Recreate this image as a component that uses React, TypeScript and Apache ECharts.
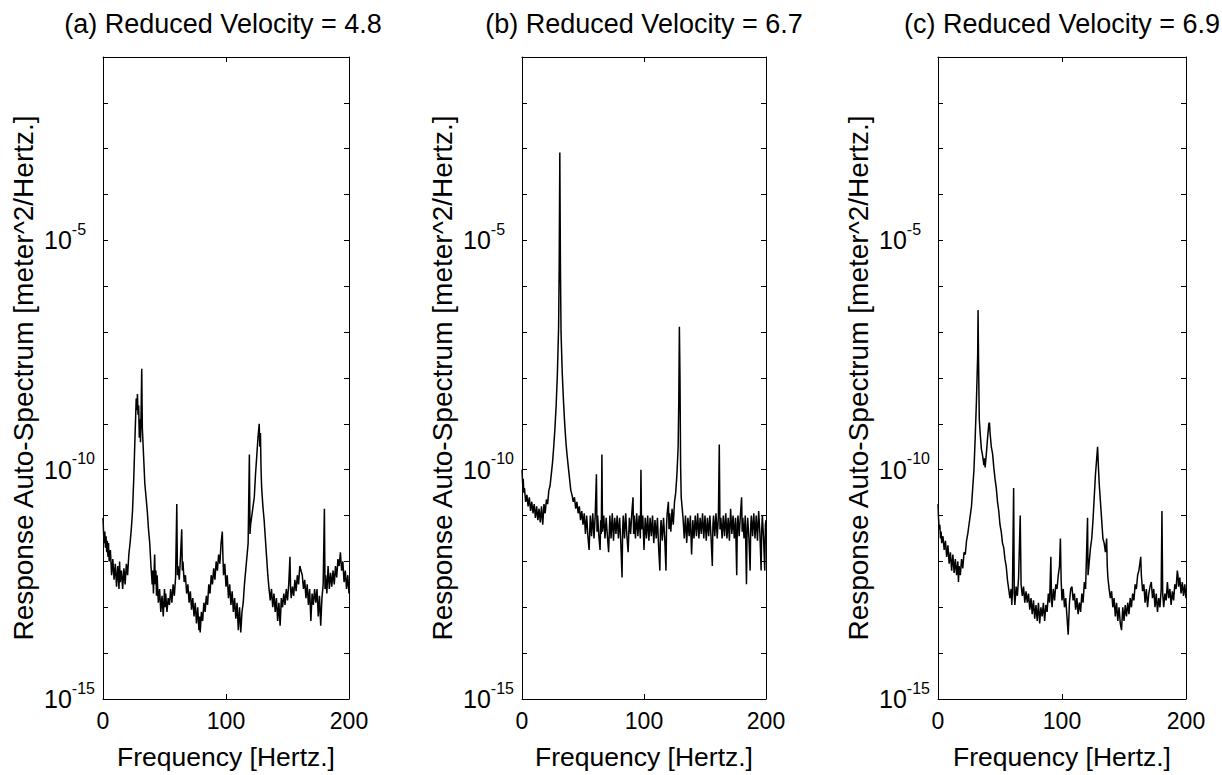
import React, { useEffect, useRef } from 'react';
import * as echarts from 'echarts';

const FONT = "'Liberation Sans', Arial, Helvetica, sans-serif";

const panelTitles = [
  '(a) Reduced Velocity = 4.8',
  '(b) Reduced Velocity = 6.7',
  '(c) Reduced Velocity = 6.9',
];
const xTickLabels = [0, 100, 200];
const yLabelExponents = [-15, -10, -5];
const xName = 'Frequency [Hertz.]';
const yName = 'Response Auto-Spectrum [meter^2/Hertz.]';

// [frequency (Hz), log10 of auto-spectrum (m^2/Hz)]
const spectrumA: [number, number][] = [
  [0,-11.05],[0.5,-11.4],[1,-11.6],[1.5,-11.35],[2,-11.7],[2.5,-11.45],[3,-11.8],[3.5,-11.55],[4,-11.9],[4.5,-11.6],[5,-12.0],[6,-11.75],[7,-12.3],[8,-11.95],[9,-12.4],[10,-12.05],[11,-12.55],[12,-12.1],[13,-12.6],[13.5,-12.0],[14,-12.45],[15,-12.2],[16,-12.6],[17,-12.15],[18,-12.5],[19,-12.05],[20,-12.3],[21,-11.85],[22,-11.6],[23,-11.3],[24,-10.9],[25,-10.2],[26,-9.3],[27,-8.45],[27.5,-8.7],[28,-8.35],[28.5,-8.8],[29,-8.6],[29.5,-9.3],[30,-8.9],[30.5,-9.4],[31,-8.7],[31.5,-7.8],[32,-9.1],[33,-9.7],[34,-10.3],[35,-10.6],[36,-10.9],[37,-11.3],[38,-11.6],[39,-12.1],[40,-12.5],[40.5,-12.2],[41,-12.7],[42,-11.85],[42.5,-12.5],[43,-12.2],[43.5,-12.75],[44,-12.3],[45,-12.9],[46,-12.6],[47,-13.1],[48,-12.75],[49,-13.2],[50,-12.6],[50.5,-13.0],[51,-12.7],[52,-13.1],[53,-12.8],[54,-12.95],[55,-12.6],[56,-12.9],[57,-12.5],[58,-12.75],[59,-12.35],[60,-10.75],[60.5,-12.3],[61,-12.1],[62,-12.4],[63,-11.9],[64,-11.3],[64.5,-12.2],[65,-12.0],[66,-12.45],[67,-12.3],[68,-12.7],[69,-12.5],[70,-12.9],[71,-12.65],[72,-13.05],[73,-12.8],[74,-13.2],[75,-12.9],[76,-13.35],[77,-13.0],[78,-13.5],[78.5,-13.2],[79,-13.55],[80,-13.1],[81,-13.3],[82,-12.9],[83,-13.1],[84,-12.75],[85,-12.95],[86,-12.5],[87,-12.7],[88,-12.3],[89,-12.5],[90,-12.15],[91,-12.4],[92,-12.0],[93,-12.2],[94,-11.85],[95,-12.05],[96,-11.6],[97,-11.35],[97.5,-11.9],[98,-12.3],[99,-12.05],[100,-12.55],[101,-12.3],[102,-12.8],[103,-12.5],[104,-12.95],[105,-12.65],[106,-13.1],[107,-12.8],[108,-13.25],[109,-12.9],[110,-13.5],[111,-13.0],[112,-13.55],[113,-13.1],[114,-12.9],[115,-12.5],[116,-12.2],[117,-11.9],[118,-11.6],[119,-9.67],[119.5,-11.4],[120,-11.2],[121,-11.0],[122,-10.8],[123,-10.6],[124,-10.1],[125,-9.7],[126,-9.3],[127,-9.0],[127.5,-9.5],[128,-9.2],[128.5,-10.0],[129,-10.4],[130,-10.8],[131,-11.1],[132,-11.5],[133,-11.9],[134,-12.3],[135,-12.6],[136,-12.85],[137,-12.6],[138,-13.0],[139,-12.7],[140,-13.1],[141,-12.8],[142,-13.3],[143,-12.9],[144,-13.4],[145,-12.8],[146,-13.0],[147,-12.7],[148,-12.95],[149,-12.6],[150,-12.85],[151,-12.5],[152,-11.9],[152.5,-12.6],[153,-12.8],[154,-12.55],[155,-12.75],[156,-12.4],[157,-12.65],[158,-12.3],[159,-12.5],[160,-12.1],[161,-12.2],[162,-12.3],[163,-12.6],[164,-12.4],[165,-12.8],[166,-12.5],[167,-12.95],[168,-12.6],[169,-13.3],[170,-12.7],[171,-12.95],[172,-12.6],[173,-12.9],[174,-12.6],[175,-13.2],[176,-12.75],[177,-13.4],[178,-12.8],[179,-12.5],[180,-10.85],[180.5,-12.6],[181,-12.3],[182,-12.7],[183,-12.1],[184,-12.6],[185,-12.25],[186,-12.55],[187,-12.2],[188,-12.5],[189,-12.1],[190,-12.35],[191,-11.95],[192,-12.1],[193,-11.8],[194,-12.2],[195,-12.0],[196,-12.45],[197,-12.2],[198,-12.6],[199,-12.3],[200,-12.7],
];

const spectrumB: [number, number][] = [
  [0,-10.0],[0.5,-10.3],[1,-10.2],[1.5,-10.5],[2,-10.4],[3,-10.7],[4,-10.55],[5,-10.8],[6,-10.6],[7,-10.9],[8,-10.7],[9,-10.95],[10,-10.75],[11,-11.05],[12,-10.8],[13,-11.1],[14,-10.85],[15,-11.15],[16,-10.8],[17,-11.2],[18,-10.75],[19,-10.95],[20,-10.65],[21,-10.75],[22,-10.45],[23,-10.35],[24,-10.1],[25,-9.85],[26,-9.5],[27,-9.1],[28,-8.6],[29,-7.9],[30,-6.9],[30.5,-5.5],[31,-3.08],[31.5,-5.6],[32,-7.0],[33,-7.9],[34,-8.5],[35,-9.0],[36,-9.4],[37,-9.7],[38,-9.95],[39,-10.2],[40,-10.45],[41,-10.55],[42,-10.7],[43,-10.6],[44,-10.85],[45,-10.7],[46,-10.95],[47,-10.8],[48,-11.1],[49,-10.9],[50,-11.2],[51,-10.95],[52,-11.4],[53,-11.0],[54,-11.45],[55,-11.75],[56,-11.0],[57,-11.45],[58,-10.95],[59,-11.5],[60,-11.0],[61,-10.1],[61.5,-11.35],[62,-11.0],[63,-11.45],[64,-11.75],[64.5,-11.1],[65,-11.4],[65.5,-9.67],[66,-11.35],[67,-11.0],[68,-11.5],[69,-11.05],[70,-11.45],[71,-11.8],[72,-11.0],[73,-11.5],[74,-10.95],[75,-11.55],[76,-11.05],[77,-11.4],[78,-11.0],[79,-11.5],[80,-11.05],[81,-11.6],[82,-12.35],[82.5,-11.3],[83,-11.0],[84,-11.5],[85,-10.95],[86,-11.45],[87,-11.8],[88,-11.05],[89,-11.4],[90,-10.95],[91,-10.6],[91.5,-11.4],[92,-11.0],[93,-11.5],[94,-10.95],[95,-11.45],[96,-11.0],[97,-11.5],[97.5,-10.0],[98,-11.3],[99,-11.0],[100,-11.75],[101,-11.05],[102,-11.5],[103,-11.0],[104,-11.55],[105,-11.05],[106,-11.45],[107,-11.0],[108,-11.6],[109,-11.1],[110,-11.5],[111,-11.05],[112,-11.7],[113,-12.2],[113.5,-11.3],[114,-11.1],[115,-11.55],[116,-11.05],[117,-11.5],[118,-12.2],[118.5,-11.2],[119,-10.95],[120,-10.7],[120.5,-11.3],[121,-10.95],[122,-11.35],[123,-10.85],[124,-11.2],[125,-10.7],[126,-10.5],[127,-10.1],[128,-9.5],[128.5,-8.5],[129,-6.88],[129.5,-8.0],[130,-9.9],[130.5,-10.6],[131,-10.75],[132,-11.05],[133,-11.5],[134,-11.0],[135,-11.6],[136,-11.05],[137,-11.45],[138,-11.0],[139,-11.85],[140,-11.1],[141,-11.5],[142,-11.0],[143,-11.45],[144,-10.95],[145,-11.5],[146,-11.05],[147,-11.4],[148,-10.95],[149,-11.5],[150,-11.0],[151,-11.55],[152,-11.05],[153,-11.45],[154,-11.0],[155,-11.5],[156,-12.1],[156.5,-11.2],[157,-11.0],[158,-11.45],[159,-10.95],[160,-11.5],[161,-11.0],[161.7,-9.45],[162.3,-11.3],[163,-11.05],[164,-11.5],[165,-11.0],[166,-11.45],[167,-10.95],[168,-11.5],[169,-11.05],[170,-11.55],[171,-10.85],[172,-11.4],[173,-11.0],[174,-11.5],[175,-11.05],[176,-12.3],[176.5,-11.2],[177,-11.0],[178,-11.45],[179,-11.0],[180,-10.6],[180.5,-11.35],[181,-11.05],[182,-11.5],[183,-11.0],[184,-12.5],[184.5,-11.3],[185,-11.05],[186,-11.5],[187,-12.2],[187.5,-11.2],[188,-11.0],[189,-11.45],[190,-10.95],[191,-11.5],[192,-11.0],[193,-11.55],[194,-10.9],[195,-11.4],[196,-12.2],[196.5,-11.3],[197,-11.0],[198,-11.5],[199,-12.2],[199.5,-11.2],[200,-11.1],
];

const spectrumC: [number, number][] = [
  [0,-10.75],[0.5,-11.1],[1,-11.3],[1.5,-11.2],[2,-11.5],[2.5,-11.35],[3,-11.6],[4,-11.45],[5,-11.75],[6,-11.55],[7,-11.9],[8,-11.65],[9,-12.05],[10,-11.8],[11,-12.2],[12,-11.85],[13,-12.25],[14,-11.95],[15,-12.3],[16,-12.0],[16.5,-12.45],[17,-12.1],[18,-12.3],[19,-11.95],[20,-12.15],[21,-11.8],[22,-11.85],[23,-11.55],[24,-11.4],[25,-11.2],[26,-11.0],[27,-10.8],[28,-10.4],[29,-10.0],[30,-9.3],[31,-8.5],[32,-7.5],[32.3,-6.52],[32.7,-7.6],[33.3,-8.9],[34,-9.2],[35,-9.55],[36,-9.7],[37,-9.9],[37.5,-9.75],[38,-9.95],[39,-9.65],[40,-9.3],[41,-9.0],[41.5,-8.97],[42,-9.2],[43,-9.5],[44,-9.65],[45,-9.95],[46,-10.2],[47,-10.4],[48,-10.7],[49,-10.9],[50,-11.2],[51,-11.35],[52,-11.6],[53,-11.7],[54,-11.95],[55,-12.1],[56,-12.4],[57,-12.6],[58,-12.8],[59,-12.6],[59.5,-12.95],[60,-12.7],[61,-10.4],[61.5,-12.7],[62,-12.95],[63,-12.55],[64,-12.75],[65,-12.35],[66.3,-11.0],[67,-12.5],[68,-12.75],[69,-12.55],[70,-12.9],[71,-12.65],[72,-12.9],[73,-12.7],[74,-13.05],[75,-12.8],[76,-13.15],[77,-12.85],[78,-13.25],[79,-12.95],[80,-13.3],[81,-12.9],[82,-13.35],[83,-13.0],[84,-13.2],[85,-12.9],[86,-13.3],[87,-12.95],[88,-13.1],[89,-12.7],[90,-12.9],[91,-11.9],[91.5,-12.8],[92,-13.0],[93,-12.6],[94,-12.85],[95,-12.5],[96,-12.6],[97,-12.3],[98,-12.1],[98.7,-11.5],[99.3,-12.4],[100,-12.85],[101,-12.6],[102,-13.0],[103,-12.8],[104,-13.2],[105,-13.6],[106,-12.9],[107,-12.6],[108,-12.55],[109,-12.85],[110,-12.7],[111,-13.05],[112,-12.8],[113,-13.15],[114,-12.9],[115,-13.1],[116,-12.7],[117,-12.9],[118,-12.45],[119,-12.6],[120.6,-11.05],[121,-12.3],[122,-12.0],[123,-11.7],[124,-11.5],[125,-11.1],[126,-10.6],[127,-10.1],[128,-9.75],[128.7,-9.5],[129.3,-9.9],[130,-10.3],[131,-10.7],[132,-11.1],[133,-11.5],[134,-11.6],[135,-11.8],[136,-11.5],[136.5,-12.1],[137,-12.35],[138,-12.6],[139,-12.8],[140,-12.65],[141,-13.0],[142,-12.8],[143,-13.2],[144,-12.9],[145,-13.3],[146,-13.0],[147,-13.35],[148,-13.5],[149,-13.0],[150,-13.3],[151,-12.95],[152,-13.2],[153,-12.9],[154,-13.15],[155,-12.8],[156,-13.0],[157,-12.7],[158,-12.85],[159,-12.5],[160,-12.6],[161,-12.3],[162,-12.2],[163.5,-11.9],[164,-12.3],[165,-12.65],[166,-12.5],[167,-12.9],[168,-12.6],[169,-13.0],[170,-12.7],[171,-12.55],[172,-12.45],[173,-12.8],[174,-12.6],[175,-13.0],[176,-12.7],[177,-13.1],[178,-12.8],[179,-13.0],[180,-12.6],[180.6,-10.9],[181.2,-12.7],[182,-13.0],[183,-12.7],[184,-12.85],[185,-12.45],[186,-12.8],[187,-12.6],[188,-12.95],[189,-12.65],[190,-12.85],[191,-12.5],[192,-12.6],[193,-12.2],[193.5,-12.3],[194,-12.55],[195,-12.35],[196,-12.7],[197,-12.45],[198,-12.75],[199,-12.5],[200,-12.8],
];

const spectra = [spectrumA, spectrumB, spectrumC];

const panelLayout = [
  { left: 103, width: 246 },
  { left: 522, width: 244 },
  { left: 938, width: 248 },
];
const GRID_TOP = 57;
const GRID_HEIGHT = 645;

function buildOption() {
  const black = '#000';
  const grid = panelLayout.map((p) => ({
    left: p.left,
    width: p.width,
    top: GRID_TOP,
    height: GRID_HEIGHT,
    containLabel: false,
  }));
  const xAxis: any[] = [];
  const yAxis: any[] = [];
  panelLayout.forEach((_, i) => {
    const common = {
      gridIndex: i,
      type: 'value',
      min: xTickLabels[0],
      max: xTickLabels[xTickLabels.length - 1],
      interval: 100,
      splitLine: { show: false },
      axisLine: { show: true, onZero: false, lineStyle: { color: black, width: 1 } },
      axisTick: { show: true, inside: true, length: 5, lineStyle: { color: black } },
    };
    xAxis.push({
      ...common,
      position: 'bottom',
      name: xName,
      nameLocation: 'middle',
      nameGap: 44,
      nameTextStyle: { fontSize: 26.5, color: black, fontFamily: FONT },
      axisLabel: { fontSize: 23, color: black, fontFamily: FONT, margin: 10 },
    });
    xAxis.push({ ...common, position: 'top', axisLabel: { show: false } });
    const ycommon = {
      gridIndex: i,
      type: 'value',
      min: -15,
      max: -1,
      interval: 1,
      splitLine: { show: false },
      axisLine: { show: true, onZero: false, lineStyle: { color: black, width: 1 } },
      axisTick: { show: true, inside: true, length: 5, lineStyle: { color: black } },
    };
    yAxis.push({
      ...ycommon,
      position: 'left',
      name: yName,
      nameLocation: 'middle',
      nameRotate: 90,
      nameGap: 66,
      nameTextStyle: { fontSize: 28, color: black, fontFamily: FONT },
      axisLabel: {
        margin: 59,
        align: 'left',
        formatter: (v: number) =>
          yLabelExponents.includes(v) ? `{b|10}{s|${v}}` : '',
        rich: {
          b: { fontSize: 25, lineHeight: 38, color: black, fontFamily: FONT },
          s: { fontSize: 16, lineHeight: 16, verticalAlign: 'top', color: black, fontFamily: FONT },
        },
      },
    });
    yAxis.push({ ...ycommon, position: 'right', axisLabel: { show: false } });
  });
  const series = spectra.map((data, i) => ({
    type: 'line',
    xAxisIndex: 2 * i,
    yAxisIndex: 2 * i,
    data,
    showSymbol: false,
    symbol: 'none',
    clip: true,
    lineStyle: { color: black, width: 1.5 },
    itemStyle: { color: black },
  }));
  const titleCenters = [223, 644, 1062];
  const graphic = panelTitles.map((t, i) => ({
    type: 'text',
    x: titleCenters[i],
    y: 24,
    style: {
      text: t,
      fontSize: 27,
      fontFamily: FONT,
      fill: black,
      textAlign: 'center',
      textVerticalAlign: 'middle',
    },
  }));
  return {
    animation: false,
    backgroundColor: '#fff',
    grid,
    xAxis,
    yAxis,
    series,
    graphic,
  };
}

export default function App() {
  const ref = useRef<HTMLDivElement>(null);
  useEffect(() => {
    if (!ref.current) return;
    const chart = echarts.init(ref.current, null, { renderer: 'svg' });
    chart.setOption(buildOption() as any);
    return () => chart.dispose();
  }, []);
  return (
    <div
      ref={ref}
      style={{ position: 'fixed', left: 0, top: 0, width: 1222, height: 775, background: '#fff' }}
    />
  );
}
